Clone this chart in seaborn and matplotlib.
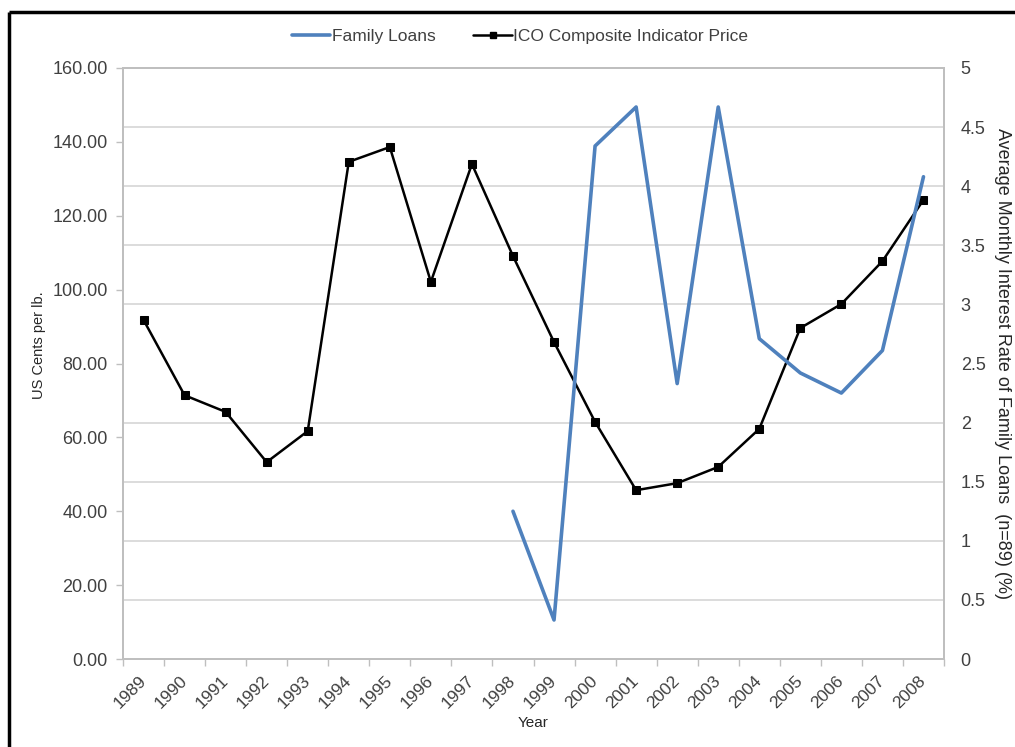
import numpy as np
import pandas as pd
import seaborn as sns
import matplotlib.pyplot as plt
from matplotlib.lines import Line2D

years = list(range(1989, 2009))
ico_price = [91.8, 71.4, 66.9, 53.3, 61.7, 134.6, 138.6, 102.1, 134.0, 109.1,
             85.8, 64.2, 45.7, 47.6, 52.0, 62.3, 89.6, 96.1, 107.7, 124.3]
loan_years = list(range(1998, 2009))
loan_rate = [1.25, 0.33, 4.34, 4.67, 2.33, 4.67, 2.71, 2.42, 2.25, 2.61, 4.08]

left_ticks = np.arange(0, 161, 20)
right_ticks = np.arange(0, 5.01, 0.5)

BLUE = "#4F81BD"
TEXT = "#404040"
GRID = "#D9D9D9"

sns.set_theme(style="white")
plt.rcParams["font.family"] = ["Liberation Sans", "DejaVu Sans"]
plt.rcParams["text.color"] = TEXT
plt.rcParams["xtick.color"] = TEXT
plt.rcParams["ytick.color"] = TEXT

ico_df = pd.DataFrame({"Year": years, "Price": ico_price})
loan_df = pd.DataFrame({"Year": loan_years, "Rate": loan_rate})

fig = plt.figure(figsize=(10.15, 7.47), dpi=100)
ax = fig.add_axes([123 / 1015, 1 - 659 / 747, (944 - 123) / 1015, (659 - 68) / 747])
ax2 = ax.twinx()

# gridlines follow the secondary axis (0.5 steps = 16 units on the left)
ax.set_yticks(np.arange(0, 161, 16), minor=True)
ax.grid(True, which="minor", axis="y", color=GRID, linewidth=1.3)
ax.grid(False, which="major")
ax.set_axisbelow(True)

sns.lineplot(data=ico_df, x="Year", y="Price", ax=ax, color="black", linewidth=1.8,
             marker="s", markersize=6, markeredgecolor="black")
sns.lineplot(data=loan_df, x="Year", y="Rate", ax=ax2, color=BLUE, linewidth=2.6)

ax.set_xlim(years[0] - 0.5, years[-1] + 0.5)
ax.set_ylim(0, 160)
ax2.set_ylim(0, 5)
ax.set_yticks(left_ticks)
ax.set_yticklabels([f"{v:.2f}" for v in left_ticks])
ax2.set_yticks(right_ticks)
ax2.set_yticklabels([f"{v:g}" for v in right_ticks])

ax.set_xticks(years)
ax.set_xticklabels([str(y) for y in years], rotation=45, ha="right", va="center",
                   rotation_mode="anchor")
ax.set_xticks(np.arange(years[0] - 0.5, years[-1] + 0.51, 1), minor=True)
ax.tick_params(axis="x", which="major", length=0, pad=14, labelsize=12.5)
ax.tick_params(axis="x", which="minor", length=5, width=1, color="#BFBFBF", direction="out",
               bottom=True)
ax.tick_params(axis="y", which="major", length=5, width=1, color="#BFBFBF", direction="out",
               left=True, pad=6, labelsize=13)
ax.tick_params(axis="y", which="minor", length=0)
ax2.tick_params(axis="y", length=0, pad=12, labelsize=13)

for a in (ax, ax2):
    for s in a.spines.values():
        s.set_color("#BFBFBF")
        s.set_linewidth(1.3)

ax.set_xlabel("Year", fontsize=11)
ax.xaxis.set_label_coords(0.5, -0.097)
ax.set_ylabel("US Cents per lb.", fontsize=10.5)
ax.yaxis.set_label_coords(-0.094, 0.531)
ax2.set_ylabel("Average Monthly Interest Rate of Family Loans  (n=89) (%)", fontsize=13,
               rotation=-90, labelpad=18)

handles = [Line2D([], [], color=BLUE, linewidth=2.6),
           Line2D([], [], color="black", linewidth=1.8, marker="s", markersize=5)]
fig.legend(handles, ["Family Loans", "ICO Composite Indicator Price"], loc="center",
           bbox_to_anchor=(520 / 1015, 1 - 36 / 747), ncol=2, frameon=False, fontsize=12.5,
           handlelength=2.2, handletextpad=0.1, columnspacing=2.2)

# outer frame (left and top edges visible in the reference)
fig.add_artist(Line2D([9 / 1015, 9 / 1015], [0, 1 - 12 / 747], color="black", linewidth=2.5,
                      solid_capstyle="butt", transform=fig.transFigure))
fig.add_artist(Line2D([9 / 1015, 1], [1 - 12 / 747, 1 - 12 / 747], color="black",
                      linewidth=2.5, solid_capstyle="butt", transform=fig.transFigure))

fig.savefig("out.png", dpi=100)
